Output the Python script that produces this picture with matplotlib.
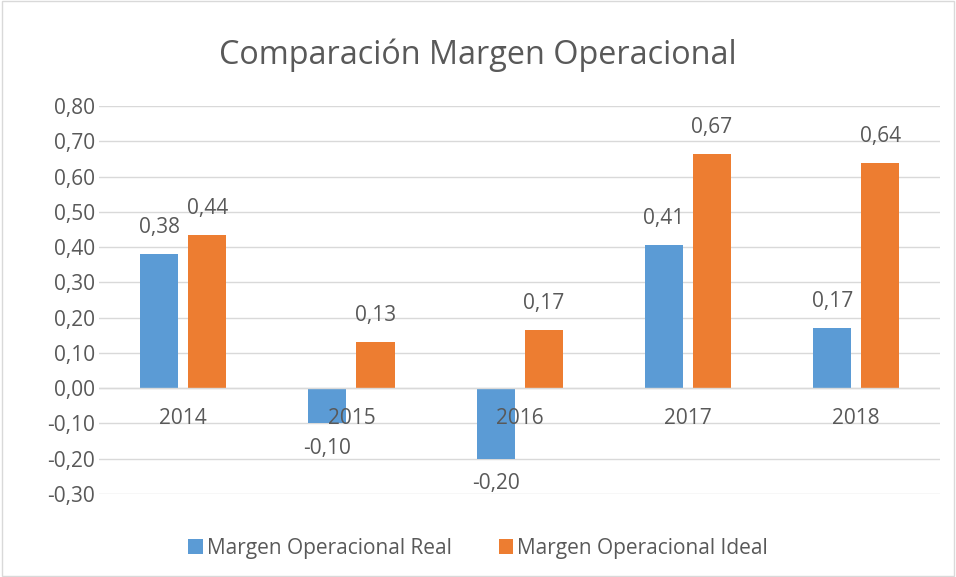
import matplotlib
matplotlib.use("Agg")
import matplotlib.pyplot as plt
import numpy as np

years = ["2014", "2015", "2016", "2017", "2018"]
real = [0.38, -0.10, -0.20, 0.405, 0.172]
ideal = [0.435, 0.13, 0.165, 0.665, 0.64]
real_labels = ["0,38", "-0,10", "-0,20", "0,41", "0,17"]
ideal_labels = ["0,44", "0,13", "0,17", "0,67", "0,64"]
yticks = [-0.3, -0.2, -0.1, 0.0, 0.1, 0.2, 0.3, 0.4, 0.5, 0.6, 0.7, 0.8]

plt.rcParams['font.family'] = ['Open Sans', 'DejaVu Sans']
blue = "#5B9BD5"
orange = "#ED7D31"
txt = "#595959"
fs = 15

fig = plt.figure(figsize=(9.56, 5.77), dpi=100)
fig.patch.set_facecolor("white")
border = plt.Rectangle((0.002, 0.002), 0.996, 0.996, transform=fig.transFigure,
                       fill=False, edgecolor="#D9D9D9", linewidth=1)
fig.add_artist(border)

ax = fig.add_axes([0.1036, 0.144, 0.880, 0.672])
x = np.arange(len(years))
w = 0.227
off = 0.143
b1 = ax.bar(x - off, real, w, color=blue, label="Margen Operacional Real", zorder=3)
b2 = ax.bar(x + off, ideal, w, color=orange, label="Margen Operacional Ideal", zorder=3)

ax.set_ylim(-0.3, 0.8)
ax.set_xlim(-0.5, len(years) - 0.5)
ax.set_yticks(yticks)
ax.set_yticklabels([f"{v:.2f}".replace(".", ",") for v in yticks], fontsize=fs, color=txt)
ax.tick_params(axis='y', length=0, pad=3)
ax.set_xticks([])
ax.grid(axis='y', color="#D9D9D9", linewidth=1, zorder=0)
for s in ax.spines.values():
    s.set_visible(False)
ax.axhline(0, color="#D9D9D9", linewidth=1, zorder=4)

for i, yr in enumerate(years):
    ax.text(i, -0.085, yr, ha='center', va='center', fontsize=fs, color=txt, zorder=5)

for i in range(len(years)):
    for xv, v, lab in ((x[i] - off, real[i], real_labels[i]), (x[i] + off, ideal[i], ideal_labels[i])):
        if v >= 0:
            ax.text(xv, v + 0.075, lab, ha='center', va='center', fontsize=fs, color=txt)
        else:
            ax.text(xv, v - 0.07, lab, ha='center', va='center', fontsize=fs, color=txt)

fig.text(0.5, 0.905, "Comparación Margen Operacional", ha='center', va='center',
         fontsize=23.3, color=txt)

fig.legend(handles=[b1, b2], loc='center', bbox_to_anchor=(0.5, 0.05), ncol=2,
           frameon=False, fontsize=fs, handlelength=0.7, handleheight=0.7,
           columnspacing=2.25, handletextpad=0.2, labelcolor=txt)

fig.savefig("out.png", dpi=100)
